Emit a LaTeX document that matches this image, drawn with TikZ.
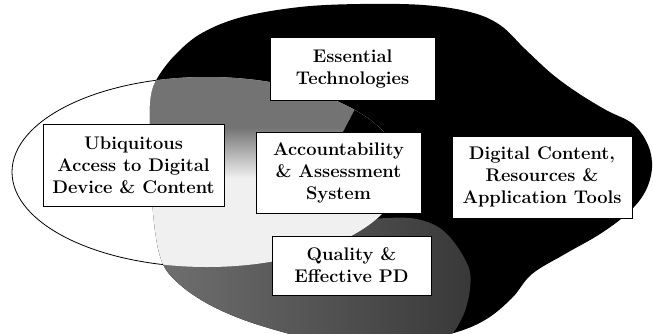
\documentclass[tikz,border=0pt]{standalone}
\usepackage{fontspec}
\definecolor{midgray}{gray}{0.45}
\definecolor{darkgray}{gray}{0.22}
\definecolor{lightgray}{gray}{0.94}
\begin{document}
\begin{tikzpicture}[x=1pt,y=-1pt,
  box/.style={draw=black, line width=0.6pt, fill=white, align=center,
    inner sep=0pt, font=\fontsize{18.3}{22}\selectfont\bfseries}]
\useasboundingbox (0,0) rectangle (653,333);
\clip (0,0) rectangle (653,333);

% left open ellipse
\filldraw[fill=white, draw=black, line width=0.8pt] (207,172) ellipse (195 and 95);

% large dark region
\fill[black] plot[smooth cycle, tension=0.6] coordinates {
  (150,125) (151,96) (158,77) (176,54) (202,33) (242,17) (300,7) (360,4)
  (423,5) (470,12) (500,25) (525,49) (552,74) (578,93) (606,110) (633,124)
  (648,145) (652,168) (645,192) (628,213) (600,234) (565,254) (532,274)
  (512,298) (485,320) (450,334) (400,342) (330,342) (262,326) (212,306)
  (177,282) (160,256) (152,200)};

\begin{scope}
  \clip plot[smooth cycle, tension=0.6] coordinates {
    (150,125) (151,96) (158,77) (176,54) (202,33) (242,17) (300,7) (360,4)
    (423,5) (470,12) (500,25) (525,49) (552,74) (578,93) (606,110) (633,124)
    (648,145) (652,168) (645,192) (628,213) (600,234) (565,254) (532,274)
    (512,298) (485,320) (450,334) (400,342) (330,342) (262,326) (212,306)
    (177,282) (160,256) (152,200)};
  % grey area below the ellipse
  \shade[left color=midgray, right color=darkgray] plot[smooth cycle] coordinates {
    (150,245) (260,238) (345,222) (410,218) (445,232) (470,272) (462,318)
    (430,345) (300,350) (190,310)};
  % overlap of the ellipse and the dark region
  \clip (207,172) ellipse (195 and 95);
  \fill[lightgray] (0,0) rectangle (653,333);
  \fill[midgray] (0,0) rectangle (653,128);
  \shade[top color=midgray, bottom color=lightgray] (0,127) rectangle (653,178);
  \fill[black] (342,134) -- (362,96) -- (700,96) -- (700,134) -- cycle;
\end{scope}

% labels
\node[box, minimum width=165pt, minimum height=63pt] (ess) at (352.5,68.5)
  {Essential\\Technologies};
\node[box, minimum width=181pt, minimum height=82pt] (ubi) at (133.5,165)
  {Ubiquitous\\Access to Digital\\Device \& Content};
\node[box, minimum width=165pt, minimum height=81pt] (acc) at (338.5,172.5)
  {Accountability\\\& Assessment\\System};
\node[box, minimum width=180pt, minimum height=82pt] (dig) at (542,177)
  {Digital Content,\\Resources \&\\Application Tools};
\node[box, minimum width=159pt, minimum height=59pt] (pd) at (351.5,265.5)
  {Quality \&\\Effective PD};
\end{tikzpicture}
\end{document}
